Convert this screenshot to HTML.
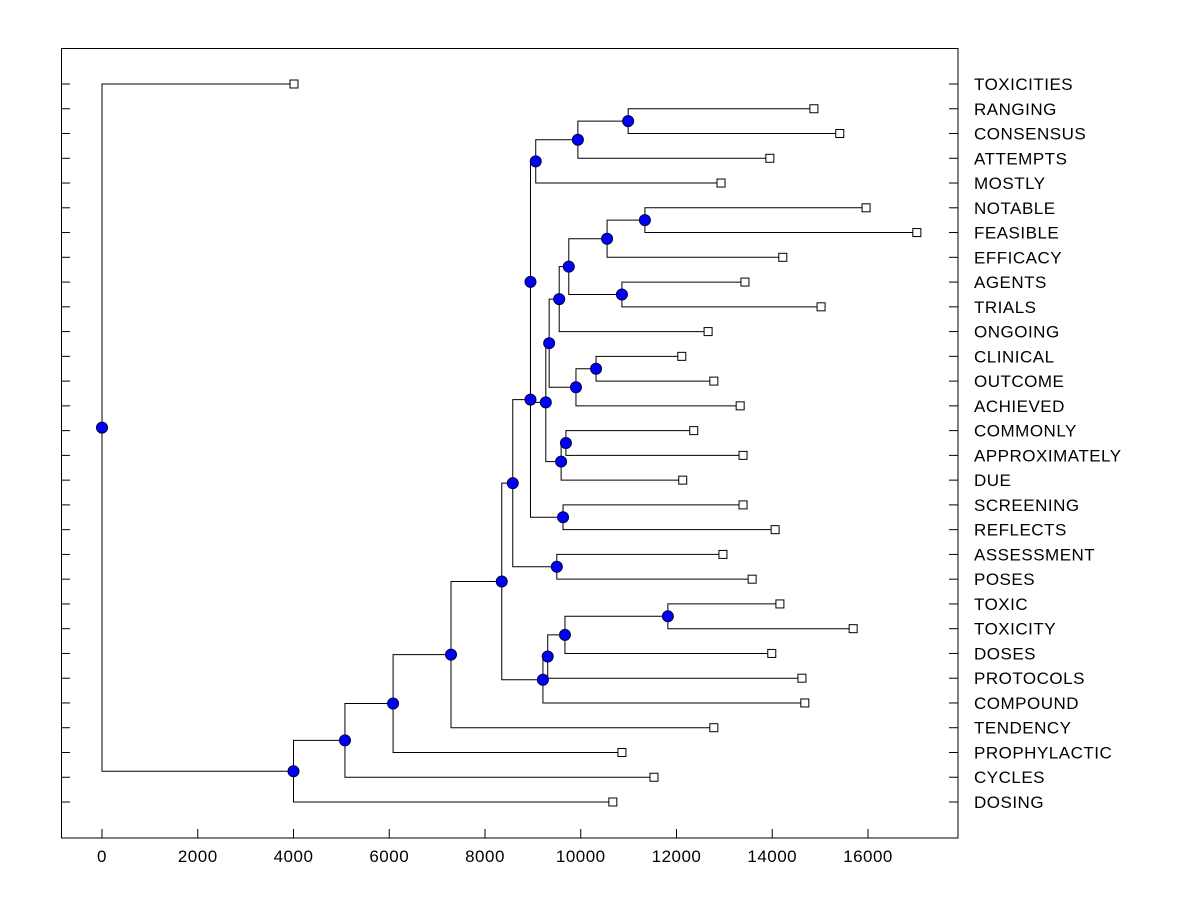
<!DOCTYPE html>
<html><head><meta charset="utf-8"><style>
html,body{margin:0;padding:0;background:#fff;}
svg text{font-family:"Liberation Sans",Arial,sans-serif;letter-spacing:0.5px;}
</style></head><body>
<svg id="chart" width="1200" height="900" viewBox="0 0 1200 900" xmlns="http://www.w3.org/2000/svg">
<rect x="0" y="0" width="1200" height="900" fill="#fff"/>
<rect x="61.5" y="48.5" width="896.5" height="789.5" fill="none" stroke="#000" stroke-width="1"/>
<g id="g"></g>
</svg>
<script>
const labels = ["TOXICITIES","RANGING","CONSENSUS","ATTEMPTS","MOSTLY","NOTABLE","FEASIBLE","EFFICACY","AGENTS","TRIALS","ONGOING","CLINICAL","OUTCOME","ACHIEVED","COMMONLY","APPROXIMATELY","DUE","SCREENING","REFLECTS","ASSESSMENT","POSES","TOXIC","TOXICITY","DOSES","PROTOCOLS","COMPOUND","TENDENCY","PROPHYLACTIC","CYCLES","DOSING"];
const leafValues = [4010,14870,15410,13950,12930,15960,17020,14220,13430,15020,12660,12110,12780,13330,12360,13390,12130,13390,14060,12970,13580,14160,15690,13990,14620,14680,12780,10860,11530,10670];
const mergeLeft  = [1,30,31,5,33,8,34,36,11,38,37,14,41,40,32,17,44,19,46,21,49,24,51,52,26,27,28,29,0];
const mergeRight = [2,3,4,6,7,9,35,10,12,13,39,15,16,42,43,18,45,20,47,22,23,50,25,48,53,54,55,56,57];
const mergeHeights = [10990,9940,9060,11340,10550,10860,9750,9550,10320,9900,9340,9690,9590,9270,8950,9630,8950,9500,8580,11820,9670,9310,9210,8350,7290,6080,5075,4000,0];
const xTicks = [0,2000,4000,6000,8000,10000,12000,14000,16000];

const X0 = 102, XS = 766/16000;
const sx = v => X0 + v*XS;
const Y0 = 84, YS = (802-84)/29;
const sy = i => Y0 + i*YS;
const NS = "http://www.w3.org/2000/svg";
const g = document.getElementById('g');
function mk(tag, attrs){const e=document.createElementNS(NS,tag);for(const k in attrs)e.setAttribute(k,attrs[k]);g.appendChild(e);return e;}

const N = labels.length;
const nx = [], ny = [];
for(let i=0;i<N;i++){nx[i]=sx(leafValues[i]);ny[i]=sy(i);}
for(let k=0;k<mergeHeights.length;k++){const a=mergeLeft[k],b=mergeRight[k];nx[N+k]=sx(mergeHeights[k]);ny[N+k]=(ny[a]+ny[b])/2;}

for(let k=0;k<mergeHeights.length;k++){
  const a=mergeLeft[k],b=mergeRight[k],x=nx[N+k];
  const p=mk('path',{d:`M${nx[a]},${ny[a]}H${x}V${ny[b]}H${nx[b]}`,fill:'none',stroke:'#000','stroke-width':1});
  
  
}
for(let i=0;i<N;i++){
  const t1=mk('line',{x1:61,x2:70,y1:sy(i),y2:sy(i),stroke:'#000'});
  
  
  const t2=mk('line',{x1:949,x2:958,y1:sy(i),y2:sy(i),stroke:'#000'});
  
  
  const t=mk('text',{x:974,y:sy(i)+6,'font-size':17,fill:'#000'});
  t.textContent=labels[i];
  
  
}
for(const v of xTicks){
  const l=mk('line',{x1:sx(v),x2:sx(v),y1:829,y2:838,stroke:'#000'});
  
  
  const t=mk('text',{x:sx(v),y:862,'font-size':17,'text-anchor':'middle',fill:'#000'});
  t.textContent=String(v);
  
  
}
for(let i=0;i<N;i++){
  const r=mk('rect',{x:nx[i]-4,y:ny[i]-4,width:8,height:8,fill:'#fff',stroke:'#000','stroke-width':1});
  
  
}
for(let k=0;k<mergeHeights.length;k++){
  const c=mk('circle',{cx:nx[N+k],cy:ny[N+k],r:5.5,fill:'#0000ff',stroke:'#000040','stroke-width':1});
  
  
}
</script>
</body></html>
